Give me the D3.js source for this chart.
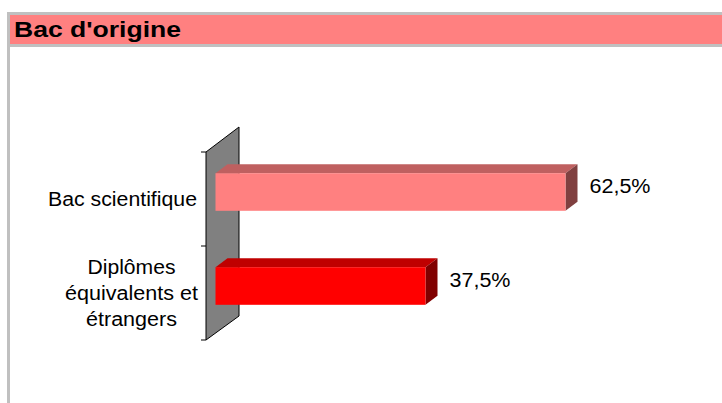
<!DOCTYPE html>
<html><head><meta charset="utf-8">
<script src="https://cdn.jsdelivr.net/npm/d3@7/dist/d3.min.js"></script>
<style>html,body{margin:0;padding:0;background:#fff;}svg{display:block;font-family:"Liberation Sans",Arial,sans-serif;}</style>
</head><body>
<script>
const title = "Bac d'origine";
const categories = ["Bac scientifique", "Diplômes équivalents et étrangers"];
const categoryLines = [["Bac scientifique"], ["Diplômes", "équivalents et", "étrangers"]];
const values = [62.5, 37.5];
const valueLabels = ["62,5%", "37,5%"];
const frontColors = ["#FF8080", "#FF0000"];
const topColors = ["#BF6060", "#BF0000"];
const sideColors = ["#804040", "#800000"];

const W = 722, H = 403;
const svg = d3.select("body").append("svg").attr("width", W).attr("height", H);

// frame
svg.append("rect").attr("x", 7).attr("y", 12).attr("width", W - 7).attr("height", H - 12).attr("fill", "#C0C0C0");
svg.append("rect").attr("x", 10).attr("y", 15).attr("width", W - 10).attr("height", 29).attr("fill", "#FF8080");
svg.append("rect").attr("x", 10).attr("y", 47).attr("width", W - 10).attr("height", H - 47).attr("fill", "#fff");
svg.append("text").attr("x", 14).attr("y", 37).attr("font-size", 21.5).attr("font-weight", "bold")
  .attr("textLength", 167).attr("lengthAdjust", "spacingAndGlyphs").attr("fill", "#000").text(title);

// scales
const x = d3.scaleLinear().domain([0, 70]).range([215.5, 215.5 + 70 * 5.6]);
const y = d3.scaleBand().domain(categories).range([152, 340]).padding(0);
const bw = y.bandwidth();
const barH = bw * 0.4;
const barOff = bw * 0.5 - barH / 2 - 7;
const dx = 12, dy = 9;       // bar depth
const wdx = 33, wdy = 25;    // wall depth
const wallX = x(0) - 9.5;

// wall
const [y0, y1] = y.range();
svg.append("polygon")
  .attr("points", [[wallX, y0], [wallX + wdx, y0 - wdy], [wallX + wdx, y1 - wdy + 1], [wallX, y1]].map(p => p.join(",")).join(" "))
  .attr("fill", "#808080").attr("stroke", "#000").attr("stroke-width", 1);

// category axis ticks
const tickYs = categories.map(c => y(c)).concat([y1]);
svg.selectAll("line.tick").data(tickYs).join("line")
  .attr("x1", wallX - 5).attr("x2", wallX).attr("y1", d => d).attr("y2", d => d)
  .attr("stroke", "#000").attr("stroke-width", 1);

// bars
const data = categories.map((c, i) => ({ c, v: values[i], i }));
const g = svg.append("g");
data.forEach(d => {
  const xa = x(0), xb = x(d.v);
  const ya = y(d.c) + barOff, yb = ya + barH;
  g.append("polygon").attr("points", [[xa, ya], [xb, ya], [xb + dx, ya - dy], [xa + dx, ya - dy]].map(p => p.join(",")).join(" "))
    .attr("fill", topColors[d.i]);
  g.append("polygon").attr("points", [[xb, ya], [xb + dx, ya - dy], [xb + dx, yb - dy], [xb, yb]].map(p => p.join(",")).join(" "))
    .attr("fill", sideColors[d.i]);
  g.append("rect").attr("x", xa).attr("y", ya).attr("width", xb - xa).attr("height", barH).attr("fill", frontColors[d.i]);
  g.append("text").attr("x", xb + dx + 12).attr("y", (ya + yb) / 2 + 0.5)
    .attr("font-size", 20).attr("textLength", 61).attr("lengthAdjust", "spacingAndGlyphs")
    .attr("fill", "#000").text(valueLabels[d.i]);
});

// category labels
const labelWidths = [[149], [88, 133, 91]];
data.forEach(d => {
  const lines = categoryLines[d.i];
  const cy = y(d.c) + bw / 2;
  const lh = 26;
  lines.forEach((ln, j) => {
    const by = cy + 7 + (j - (lines.length - 1) / 2) * lh;
    const w = labelWidths[d.i][j];
    const xs = lines.length === 1 ? 197 - w : 131.5 - w / 2;
    svg.append("text").attr("x", xs).attr("y", by).attr("font-size", 19.5)
      .attr("textLength", w).attr("lengthAdjust", "spacingAndGlyphs").attr("fill", "#000").text(ln);
  });
});
</script>
</body></html>
